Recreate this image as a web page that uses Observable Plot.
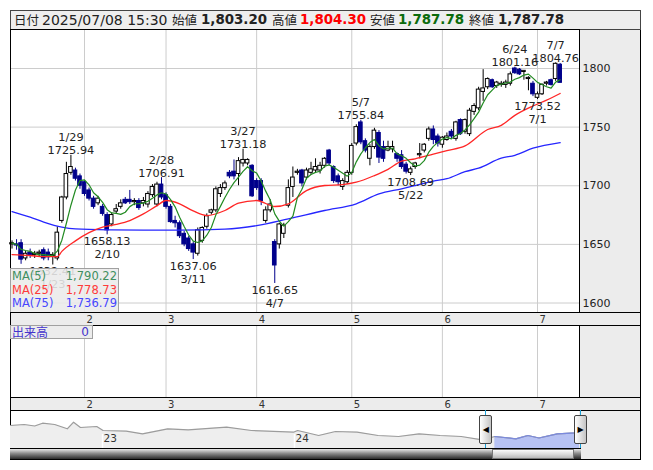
<!DOCTYPE html>
<html><head><meta charset="utf-8">
<script src="https://cdn.jsdelivr.net/npm/d3@7"></script>
<script src="https://cdn.jsdelivr.net/npm/@observablehq/plot@0.6"></script>
<style>
body{margin:0;background:#fff;}
#root{position:relative;width:653px;height:470px;overflow:hidden;font-family:"DejaVu Sans",sans-serif;background:#fff;}
.a{position:absolute;box-sizing:border-box;}
.jp{font-family:"Noto Sans CJK JP",sans-serif;}
svg{display:block;}
</style></head><body><div id="root"></div>
<script>
// ---------- data ----------
const dates = ["1/9","1/10","1/14","1/15","1/16","1/17","1/20","1/21","1/22","1/23","1/24","1/27","1/28","1/29","1/30","1/31",
"2/3","2/4","2/5","2/6","2/7","2/10","2/12","2/13","2/14","2/17","2/18","2/19","2/20","2/21","2/25","2/26","2/27","2/28",
"3/3","3/4","3/5","3/6","3/7","3/10","3/11","3/12","3/13","3/14","3/17","3/18","3/19","3/21","3/24","3/25","3/26","3/27","3/28","3/31",
"4/1","4/2","4/3","4/4","4/7","4/8","4/9","4/10","4/11","4/14","4/15","4/16","4/17","4/18","4/21","4/22","4/23","4/24","4/25","4/28","4/30",
"5/1","5/2","5/7","5/8","5/9","5/12","5/13","5/14","5/15","5/16","5/19","5/20","5/21","5/22","5/23","5/26","5/27","5/28","5/29","5/30",
"6/2","6/3","6/4","6/5","6/6","6/9","6/10","6/11","6/12","6/13","6/16","6/17","6/18","6/19","6/20","6/23","6/24","6/25","6/26","6/27","6/30",
"7/1","7/2","7/3","7/4","7/7","7/8"];
const open = [1650,1650,1651,1638,1643,1641,1642,1645,1643,1640,1638,1670,1690,1711,1713,1708,
1703,1696,1689,1685,1682,1675,1667,1678,1682,1688,1688,1686,1687,1685,1684,1692,1684,1701,
1692,1682,1670,1668,1659,1655,1650,1642,1653,1665,1677,1679,1693,1698,1711,1712,1710,1719,1719,1717,
1704,1704,1670,1679,1652,1650,1659,1683,1699,1711,1713,1707,1711,1713,1713,1717,1730,1716,1708,1699,1703,
1711,1736,1754,1738,1723,1733,1745,1733,1730,1731,1727,1726,1718,1711,1716,1726,1730,1740,1748,1742,
1735,1739,1746,1740,1756,1746,1744,1763,1766,1780,1784,1790,1785,1786,1786,1787,1800,1799,1797,1791,1787,
1775,1778,1787,1790,1791,1803.2];
const high = [1653,1654,1654,1644,1646,1644,1645,1647,1646,1643,1665,1691,1720,1725.94,1715,1710,
1704,1698,1691,1691,1684,1677,1677,1684,1688,1690,1696,1689,1689,1690,1695,1701,1703,1706.91,
1694,1684,1674,1670,1661,1657,1652,1664,1665,1676,1680,1699,1701,1704,1713,1722,1724,1731.18,1723,1718,
1706,1706,1682,1688,1654,1668,1668,1705,1716,1714,1714,1715,1720,1723,1720,1724,1731,1717,1710,1706,1713,
1736,1752,1755.84,1740,1735,1749,1747,1738,1738,1738,1728,1730,1720,1716,1720,1736,1736,1750,1751,1744,
1742,1745,1748,1755,1757,1757,1766,1770,1784,1799,1792,1791,1789,1789,1790,1797,1801.16,1800,1798,1793,1789,
1780,1787,1789,1791,1804.76,1804.3];
const low = [1646,1645,1633,1636,1638,1638,1639,1636,1636,1632.41,1636,1668,1688,1709,1704,1697,
1691,1687,1680,1683,1674,1658.13,1665,1676,1680,1684,1684,1683,1679,1682,1681,1690,1682,1688,
1680,1668,1664,1655,1648,1644,1637.06,1640,1651,1663,1675,1677,1690,1696,1706,1705,1700,1716,1717,1690,
1696,1683,1668,1677,1616.65,1646,1655,1681,1690,1709,1699,1705,1709,1711,1710,1715,1717,1702,1700,1696,1701,
1709,1734,1735,1728,1717,1731,1719,1720,1729,1728,1720,1714,1710,1708.69,1714,1723,1728,1738,1735,1733,
1732,1738,1740,1738,1743,1744,1742,1760,1764,1772,1782,1783,1783,1784,1783,1785,1795,1794,1790,1781,1776,
1773.52,1777,1785,1785,1789,1787.78];
const close = [1651,1649,1637,1642,1641,1642,1643,1638,1639,1641,1660,1690,1710,1716,1706,1700,
1693,1689,1682,1689,1676,1662,1675,1680,1685,1685,1686,1687,1681,1687,1693,1699,1701,1690,
1682,1669,1668,1657,1650,1646,1643,1662,1664,1674,1679,1697,1698,1702,1708,1708,1721,1722,1722,1691,
1698,1687,1679,1684,1632,1667,1666,1698,1707,1712,1702,1713,1714,1716,1717,1723,1719,1704,1703,1704,1711,
1734,1750,1737,1730,1733,1747,1724,1723,1733,1733,1723,1716,1712,1714,1719,1727,1735,1748,1739,1736,
1741,1742,1742,1754,1744,1756,1764,1768,1782,1783,1791,1784,1788,1787,1788,1795,1796,1795,1798,1792,1778,
1778,1786,1788,1786,1804,1787.78];

const ma25Dates  = ["1/9","1/16","1/21","1/24","1/27","1/30","2/4","2/7","2/13","2/18","2/21","2/27","3/3","3/6","3/11","3/14","3/21","3/26","4/1","4/7","4/10","4/16","4/22","4/28","5/2","5/12","5/15","5/20","5/23","5/29","6/3","6/9","6/16","6/19","6/24","6/30","7/3","7/8"];
const ma25Values = [1641.3,1640.5,1639.6,1639.6,1644,1653,1660,1664.7,1667,1670.3,1676,1683,1687.4,1684.6,1678.5,1674.6,1678.9,1685.1,1687.4,1682.3,1684.6,1695.9,1700.2,1701,1703,1708.7,1714,1721,1723,1727,1730,1734,1748,1751.5,1760,1768,1773,1778.73];
const ma75Dates  = ["1/9","1/16","1/21","1/27","1/30","2/12","2/21","3/6","3/21","4/1","4/10","4/22","5/2","5/13","5/20","5/23","5/29","6/3","6/9","6/12","6/19","6/24","6/30","7/8"];
const ma75Values = [1678,1673.2,1669,1664.7,1663.2,1662.4,1662.2,1662.2,1663,1666,1671.8,1678.9,1684.6,1693,1697.4,1700.2,1704,1706,1712,1715,1723.5,1726,1732,1736.79];
const maLegendLabels = ["MA(5)","MA(25)","MA(75)"];
const maLegendValues = [1790.22,1778.73,1736.79];

const yTicks = [1600,1650,1700,1750,1800];
const monthStarts = ["2/3","3/3","4/1","5/1","6/2","7/1"];
const monthLabels = ["2","3","4","5","6","7"];
const highDates = ["1/29","2/28","3/27","5/7","6/24","7/7"];
const lowDates  = ["1/23","2/10","3/11","4/7","5/22","7/1"];

const headerDate = "2025/07/08 15:30";
const volumeValue = 0;

const navDates = ["2022-07-10","2022-08-05","2022-08-25","2022-09-09","2022-10-02","2022-10-26","2022-11-07","2022-11-20","2022-12-21","2023-01-02","2023-02-15","2023-03-18","2023-05-05","2023-06-13","2023-08-25","2023-10-11","2023-12-30","2024-01-07","2024-02-16","2024-03-19","2024-04-29","2024-06-08","2024-07-17","2024-08-25","2024-10-04","2024-11-13","2024-12-23","2025-01-16","2025-02-25","2025-03-20","2025-04-10","2025-05-15","2025-06-20","2025-06-26"];
const navValues = [23,24,22.5,25.3,24,19.7,26.3,21,22,18,17.3,14.7,19.7,18.7,21.3,18,16.3,18,13,17,16.3,13,12,14.7,13,12,8.7,12,9.7,13,10.5,14.7,15.7,16];
const navYearDates = ["2023-01-01","2024-01-01"];
const navYearLabels = ["23","24"];
const navWindow = ["2024-12-30","2025-06-26"];

// ---------- helpers ----------
const root = document.getElementById("root");
const fmt = d3.format(",.2f");
const idx = d => dates.indexOf(d);
const X_DOMAIN = [-0.336, 125.27];
const DOWN = "#00008b";
const rows = dates.map((date, i) => ({i, date, open: open[i], high: high[i], low: low[i], close: close[i]}));
const isUp = d => d.close >= d.open;
const ma25 = ma25Dates.map((d, k) => ({i: idx(d), v: ma25Values[k]}));
const ma75 = ma75Dates.map((d, k) => ({i: idx(d), v: ma75Values[k]}));
const highAnn = highDates.map(d => ({i: idx(d), date: d, v: high[idx(d)]}));
const lowAnn = lowDates.map(d => ({i: idx(d), date: d, v: low[idx(d)]}));
const months = monthStarts.map((d, k) => ({i: idx(d), label: monthLabels[k]}));

function box(css, html) {
  const el = document.createElement("div");
  el.className = "a";
  el.style.cssText = css;
  if (html != null) el.innerHTML = html;
  root.appendChild(el);
  return el;
}
function place(node, left, top) {
  node.style.position = "absolute";
  node.style.left = left + "px";
  node.style.top = top + "px";
  root.appendChild(node);
  return node;
}

// ---------- background panels ----------
box("left:579px;top:29px;width:62px;height:431px;background:#ececec;border-right:1px solid #000;border-bottom:1px solid #000;");
box("left:10px;top:410px;width:1px;height:50px;background:#000;");

// ---------- header ----------
box("left:10px;top:10px;width:631px;height:20px;background:#eeeeee;border:1px solid #444;");
const last = dates.length - 1;
const hdr = [
  {x:14, t:"日付", cls:"jp", size:12.5, w:400, c:"#222"},
  {x:42, t:headerDate, size:14, w:400, c:"#222"},
  {x:172, t:"始値", cls:"jp", size:12.5, w:400, c:"#222"},
  {x:201, t:fmt(open[last]), size:13.4, w:700, c:"#222"},
  {x:272, t:"高値", cls:"jp", size:12.5, w:400, c:"#222"},
  {x:300, t:fmt(high[last]), size:13.4, w:700, c:"#ff0000"},
  {x:370, t:"安値", cls:"jp", size:12.5, w:400, c:"#222"},
  {x:398, t:fmt(low[last]), size:13.4, w:700, c:"#0b6b0b"},
  {x:469, t:"終値", cls:"jp", size:12.5, w:400, c:"#222"},
  {x:498, t:fmt(close[last]), size:13.4, w:700, c:"#222"}
];
for (const h of hdr) {
  const el = box(`left:${h.x}px;top:10px;height:20px;line-height:20px;font-size:${h.size}px;font-weight:${h.w};color:${h.c};white-space:nowrap;`, h.t);
  if (h.cls) el.classList.add(h.cls);
}

// ---------- main chart ----------
const txt = {fontFamily: "DejaVu Sans", fontSize: 11.3, fill: "#222", lineHeight: 1.16};
const main = Plot.plot({
  width: 630, height: 283, marginLeft: 0, marginRight: 61, marginTop: 0, marginBottom: 0,
  style: {background: "transparent", overflow: "visible", fontFamily: "DejaVu Sans"},
  x: {domain: X_DOMAIN, axis: null},
  y: {domain: [1591.9, 1833.26], axis: null},
  marks: [
    Plot.ruleY(yTicks, {stroke: "#cccccc"}),
    Plot.ruleX(months, {x: "i", stroke: "#cccccc"}),
    Plot.ruleX(rows, {filter: isUp, x: "i", y1: "low", y2: "high", stroke: "#000"}),
    Plot.ruleX(rows, {filter: d => !isUp(d), x: "i", y1: "low", y2: "high", stroke: DOWN}),
    Plot.rect(rows, {filter: isUp, x1: d => d.i - 0.4, x2: d => d.i + 0.4, y1: "open", y2: "close", fill: "#fff", stroke: "#000"}),
    Plot.rect(rows, {filter: d => !isUp(d), x1: d => d.i - 0.4, x2: d => d.i + 0.4, y1: "open", y2: "close", fill: DOWN, stroke: DOWN}),
    Plot.line(ma75, {x: "i", y: "v", stroke: "#2626ff", strokeWidth: 1.3, curve: "monotone-x"}),
    Plot.line(ma25, {x: "i", y: "v", stroke: "#ff2626", strokeWidth: 1.3, curve: "monotone-x"}),
    Plot.lineY(rows, Plot.windowY({k: 5, anchor: "end", reduce: "mean"}, {x: "i", y: "close", stroke: "#228b22", strokeWidth: 1.2})),
    Plot.text(highAnn, {x: "i", y: "v", text: d => `${d.date}\n${d.v.toFixed(2)}`, lineAnchor: "bottom", dy: -1, ...txt}),
    Plot.text(lowAnn, {x: "i", y: "v", text: d => `${d.v.toFixed(2)}\n${d.date}`, lineAnchor: "top", dy: 1, ...txt}),
    Plot.axisY(yTicks, {anchor: "right", tickSize: 0, tickPadding: 3, fontSize: 11, fill: "#222", label: null, tickFormat: d => String(d)}),
    Plot.frame({stroke: "#000"})
  ]
});
place(main, 10, 29);

// MA legend (semi-transparent box over the plot, as in the reference)
const maColors = ["#3f8f5f", "#ff3a3a", "#4646ff"];
const lg = box("left:10px;top:268px;width:109px;height:45px;background:rgba(234,234,234,0.88);border:1px solid #a0a0a0;");
const lgRows = maLegendLabels.map((lab, k) => `<span style="color:${maColors[k]}">${lab}</span><span style="color:${maColors[k]};text-align:right">${fmt(maLegendValues[k])}</span>`).join("");
lg.innerHTML = `<div style="position:absolute;left:1px;top:1px;width:105px;display:grid;grid-template-columns:auto auto;justify-content:space-between;font-size:11.5px;line-height:13.6px;">${lgRows}</div>`;

// ---------- strips ----------
function strip(top) {
  box(`left:10px;top:${top}px;width:631px;height:14px;background:#ececec;border:1px solid #000;`);
  const s = Plot.plot({
    width: 630, height: 13, marginLeft: 0, marginRight: 61, marginTop: 0, marginBottom: 0,
    style: {background: "transparent", overflow: "visible", fontFamily: "DejaVu Sans"},
    x: {domain: X_DOMAIN, axis: null}, y: {domain: [0, 1], axis: null},
    marks: [Plot.text(months, {x: "i", frameAnchor: "middle", text: "label", textAnchor: "start", dx: 2, dy: 0.5, fontSize: 10, fill: "#333"})]
  });
  place(s, 10, top);
}
strip(312);

// ---------- volume panel ----------
const vol = Plot.plot({
  width: 630, height: 72, marginLeft: 0, marginRight: 61, marginTop: 0, marginBottom: 0,
  style: {background: "transparent", overflow: "visible"},
  x: {domain: X_DOMAIN, axis: null}, y: {domain: [0, 1], axis: null},
  marks: [
    Plot.ruleX(months, {x: "i", stroke: "#cccccc"}),
    Plot.frame({stroke: "#000"})
  ]
});
place(vol, 10, 325);
const vb = box("left:10px;top:325px;width:83px;height:14px;background:rgba(234,234,234,0.9);border:1px solid #a0a0a0;font-size:12px;line-height:12px;color:#4433cc;");
vb.innerHTML = `<span class="jp" style="position:absolute;left:1px;top:0">出来高</span><span style="position:absolute;right:3px;top:0">${volumeValue}</span>`;
strip(397);

// ---------- navigator ----------
const nav = navDates.map((d, k) => ({date: new Date(d), v: navValues[k]}));
const wStart = new Date(navWindow[0]), wEnd = new Date(navWindow[1]);
const navSel = nav.filter(d => d.date >= wStart);
const navYears = navYearDates.map((d, k) => ({date: new Date(d), label: navYearLabels[k]}));
const navPlot = Plot.plot({
  width: 569, height: 38, marginLeft: 0, marginRight: 0, marginTop: 0, marginBottom: 0,
  style: {background: "transparent", overflow: "visible", fontFamily: "DejaVu Sans"},
  x: {type: "utc", domain: [new Date("2022-07-10"), new Date("2025-06-26")], axis: null},
  y: {domain: [0, 38], axis: null},
  marks: [
    Plot.areaY(nav, {x: "date", y: "v", fill: "#eeeeee"}),
    Plot.areaY(navSel, {x: "date", y: "v", fill: "#b7c2f3"}),
    Plot.lineY(nav, {x: "date", y: "v", stroke: "#9c9c9c", strokeWidth: 1.2}),
    Plot.lineY(navSel, {x: "date", y: "v", stroke: "#7b8ade", strokeWidth: 1.2}),
    Plot.ruleX(navYears, {x: "date", y1: 0, y2: 14, stroke: "#fff", strokeWidth: 1.5}),
    Plot.text(navYears, {x: "date", frameAnchor: "bottom", dy: -7, text: "label", textAnchor: "start", dx: 1, fontSize: 10.5, fill: "#333"})
  ]
});
place(navPlot, 10, 410);
const nx = navPlot.scale("x");
const xs = 10 + nx.apply(wStart), xe = 10 + nx.apply(wEnd) + 1;
box(`left:${xs}px;top:410px;width:1px;height:38px;background:#1aa0d8;`);
box(`left:${xe}px;top:410px;width:1px;height:38px;background:#1aa0d8;`);
// scrollbar
box(`left:10px;top:448px;width:571px;height:12px;background:linear-gradient(#e8e8e8,#8a8a8a 45%,#2a2a2a);border-top:1px solid #000;border-bottom:1px solid #000;`);
box(`left:${xs + 7}px;top:449px;width:${xe - xs - 13}px;height:10px;background:linear-gradient(#fbfbfb,#d6d6d6 60%,#b8b8b8);border:1px solid #777;`);
// handles
const hcss = "top:415px;width:13px;height:29px;background:linear-gradient(to right,#ffffff,#c4c4c4);border:1px solid #444;border-radius:2px;font-size:8px;line-height:27px;text-align:center;color:#000;";
box(`left:${xs - 6}px;${hcss}`, "◀");
box(`left:${xe - 6}px;${hcss}`, "▶");
</script></body></html>
